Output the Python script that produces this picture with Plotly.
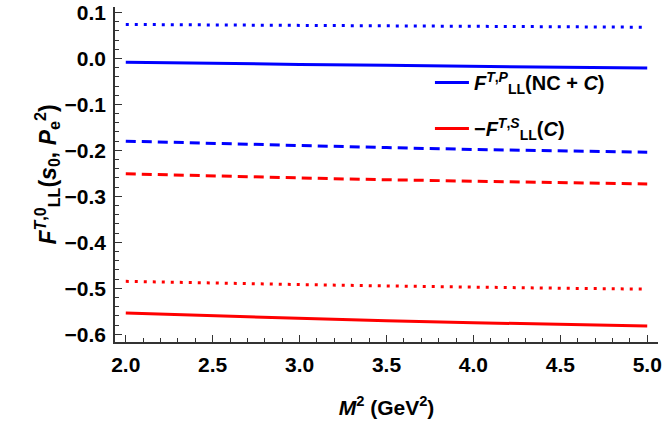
import plotly.graph_objects as go

# M^2 values (GeV^2)
m2 = [2.0, 2.5, 3.0, 3.5, 4.0, 4.5, 5.0]

# blue curves
blue_solid = [-0.008, -0.011, -0.013, -0.015, -0.017, -0.019, -0.021]
blue_dashed = [-0.180, -0.185, -0.190, -0.194, -0.198, -0.201, -0.204]
blue_dotted = [0.074, 0.073, 0.072, 0.071, 0.070, 0.069, 0.068]

# red curves
red_solid = [-0.554, -0.560, -0.565, -0.571, -0.575, -0.579, -0.582]
red_dashed = [-0.251, -0.256, -0.260, -0.264, -0.267, -0.270, -0.273]
red_dotted = [-0.485, -0.489, -0.492, -0.495, -0.498, -0.500, -0.502]

BLUE = '#0000ff'
RED = '#ff0000'
FONT = 'Liberation Sans'

fig = go.Figure()

fig.add_trace(go.Scatter(x=m2, y=blue_dotted, mode='lines', showlegend=False,
                         line=dict(color=BLUE, width=3, dash='3px,6px')))
fig.add_trace(go.Scatter(x=m2, y=blue_solid, mode='lines', legendgroup='p',
                         name='<b><i>F</i><sup><i>T</i>,<i>P</i></sup><sub>LL</sub>(NC + <i>C</i>)</b>',
                         line=dict(color=BLUE, width=3)))
fig.add_trace(go.Scatter(x=m2, y=red_solid, mode='lines', legendgroup='s',
                         name='<b>\u2212<i>F</i><sup><i>T</i>,<i>S</i></sup><sub>LL</sub>(<i>C</i>)</b>',
                         line=dict(color=RED, width=3)))
fig.add_trace(go.Scatter(x=m2, y=blue_dashed, mode='lines', showlegend=False,
                         line=dict(color=BLUE, width=3, dash='10px,6px')))
fig.add_trace(go.Scatter(x=m2, y=red_dashed, mode='lines', showlegend=False,
                         line=dict(color=RED, width=3, dash='10px,6px')))
fig.add_trace(go.Scatter(x=m2, y=red_dotted, mode='lines', showlegend=False,
                         line=dict(color=RED, width=3, dash='3px,6px')))

axis_common = dict(
    showline=True, linecolor='#333333', linewidth=1.5,
    ticks='inside', ticklen=7, tickwidth=1.2, tickcolor='#333333',
    showgrid=False, zeroline=False, mirror=False, automargin=False,
    tickfont=dict(family=FONT, size=21, color='black', weight='bold'),
    tickformat='.1f', ticklabelstandoff=3,
)

fig.update_layout(
    width=664, height=436,
    margin=dict(l=115, r=6, t=7, b=94),
    paper_bgcolor='white', plot_bgcolor='white',
    font=dict(family=FONT, color='black'),
    xaxis=dict(range=[1.938, 5.062], dtick=0.5, tick0=2.0,
               minor=dict(dtick=0.1, ticks='inside', ticklen=4, tickcolor='#333333'),
               title=dict(text='<b><i>M</i><sup>2</sup> (GeV<sup>2</sup>)</b>',
                          font=dict(family=FONT, size=21), standoff=25),
               **axis_common),
    yaxis=dict(range=[-0.617, 0.112], dtick=0.1, tick0=0,
               minor=dict(dtick=0.02, ticks='inside', ticklen=4, tickcolor='#333333'),
               title=dict(text='<b><i>F</i><sup><i>T</i>,0</sup><sub>LL</sub>(<i>s</i><sub>0</sub>, <i>P</i><sub>e</sub><sup>2</sup>)</b>',
                          font=dict(family=FONT, size=23), standoff=2),
               **axis_common),
    legend=dict(x=0.58, y=0.833, xanchor='left', yanchor='top',
                bgcolor='rgba(0,0,0,0)', borderwidth=0,
                font=dict(family=FONT, size=20, color='black'),
                itemwidth=34, tracegroupgap=17),
)

# drop the default body margin so the figure sits at the window's corner
fig.write_html('out.html', config={'displayModeBar': False},
               post_script="document.body.style.margin='0';")
